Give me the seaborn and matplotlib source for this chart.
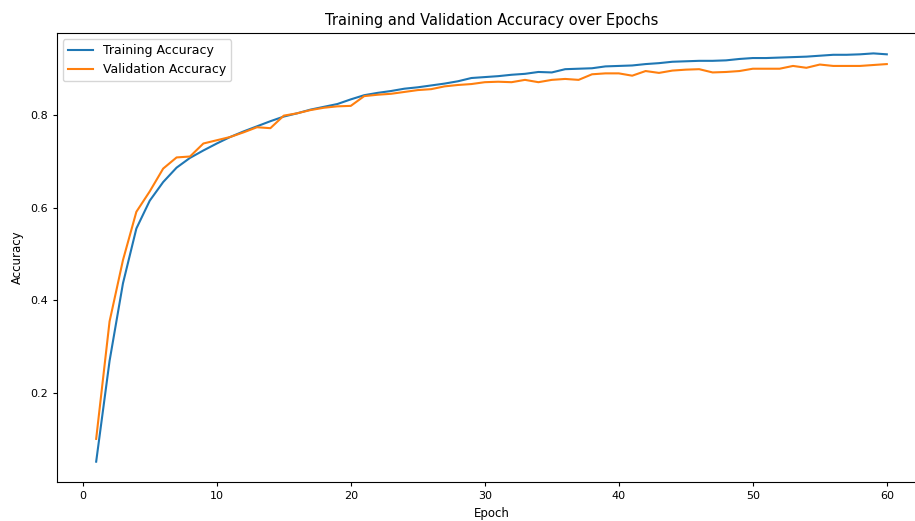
import numpy as np
import pandas as pd
import matplotlib
matplotlib.use("Agg")
import matplotlib.pyplot as plt
import seaborn as sns

# per-epoch accuracy
epochs = list(range(1, 61))
train_acc = [0.053, 0.270, 0.437, 0.555, 0.615, 0.655, 0.686, 0.707, 0.723, 0.738,
             0.752, 0.764, 0.775, 0.786, 0.796, 0.803, 0.811, 0.817, 0.823, 0.833,
             0.842, 0.847, 0.851, 0.856, 0.859, 0.863, 0.867, 0.872, 0.879, 0.881,
             0.883, 0.886, 0.888, 0.892, 0.891, 0.898, 0.899, 0.900, 0.904, 0.905,
             0.906, 0.909, 0.911, 0.914, 0.915, 0.916, 0.916, 0.917, 0.920, 0.922,
             0.922, 0.923, 0.924, 0.925, 0.927, 0.929, 0.929, 0.930, 0.932, 0.930]
val_acc = [0.102, 0.355, 0.487, 0.591, 0.635, 0.684, 0.708, 0.710, 0.738, 0.745,
           0.752, 0.762, 0.773, 0.771, 0.798, 0.803, 0.810, 0.815, 0.818, 0.819,
           0.840, 0.843, 0.845, 0.849, 0.853, 0.855, 0.861, 0.864, 0.866, 0.870,
           0.871, 0.870, 0.875, 0.870, 0.875, 0.877, 0.875, 0.887, 0.889, 0.889,
           0.884, 0.894, 0.890, 0.895, 0.897, 0.898, 0.891, 0.892, 0.894, 0.899,
           0.899, 0.899, 0.905, 0.901, 0.908, 0.905, 0.905, 0.905, 0.907, 0.909]

df = pd.DataFrame({"Epoch": epochs, "train": train_acc, "val": val_acc})

fig = plt.figure(figsize=(9.15, 5.21), dpi=100)
# axes runs slightly past the right edge, like the cropped reference
ax = fig.add_axes([0.0619, 0.0747, 0.9505, 0.862])

sns.lineplot(data=df, x="Epoch", y="train", label="Training Accuracy",
             color="tab:blue", linewidth=1.5, ax=ax)
sns.lineplot(data=df, x="Epoch", y="val", label="Validation Accuracy",
             color="tab:orange", linewidth=1.5, ax=ax)

ax.set_title("Training and Validation Accuracy over Epochs", fontsize=10.5)
ax.set_xlabel("Epoch", fontsize=8.5)
ax.set_ylabel("Accuracy", fontsize=8.5)
ax.set_xticks([0, 10, 20, 30, 40, 50, 60])
ax.set_yticks([0.2, 0.4, 0.6, 0.8])
ax.tick_params(labelsize=8, length=3)
ax.legend(loc="upper left", fontsize=9)

fig.savefig("out.png", dpi=100)
